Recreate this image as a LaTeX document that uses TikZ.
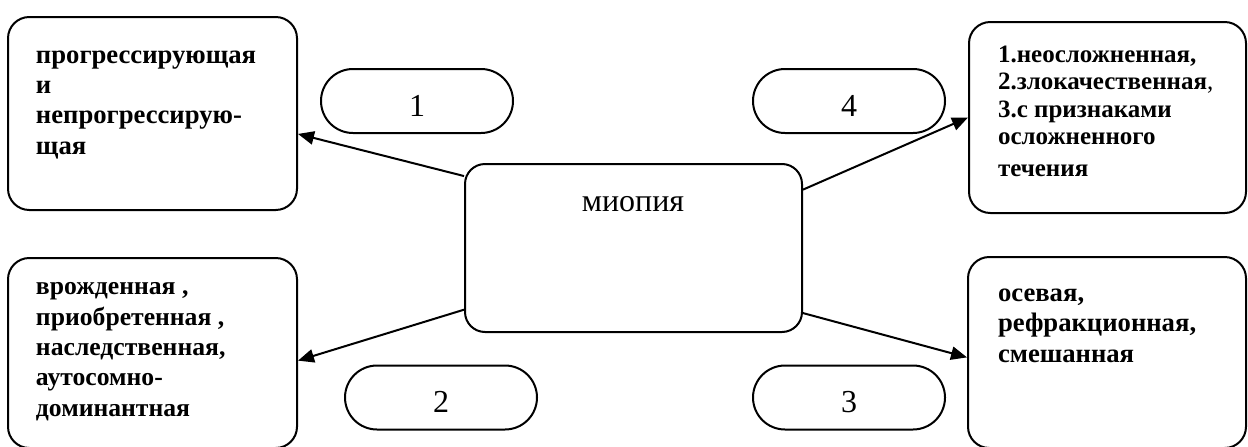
\documentclass[tikz,border=0pt]{standalone}
\usepackage{fontspec}
\setmainfont{Liberation Serif}
\usetikzlibrary{arrows.meta}

\begin{document}
\begin{tikzpicture}[x=0.75pt,y=-0.75pt,>={Triangle[length=12pt,width=10pt]},line width=1.5pt,
    big box/.style={draw,rounded corners=16pt},
    pill/.style={draw,rounded corners=24pt,minimum width=144pt,minimum height=48pt,text height=23pt,text depth=0pt,font=\fontsize{24}{28}\selectfont},
    txt/.style={anchor=base west,align=left,inner sep=0pt,font=\fontsize{20}{22.75}\selectfont\bfseries}]
    \useasboundingbox (0,0) rectangle (1248,446);

    % boxes
    \node[big box,minimum width=216.75pt,minimum height=144.75pt] (prog) at (152.5,113.5) {};
    \node[big box,minimum width=207.75pt,minimum height=143.25pt] (flow) at (1107.5,117.5) {};
    \node[big box,minimum width=216.75pt,minimum height=142.5pt] (orig) at (152.5,353) {};
    \node[big box,minimum width=208.5pt,minimum height=143.25pt] (kind) at (1107,352.5) {};
    \node[big box,rounded corners=15pt,minimum width=252.75pt,minimum height=126pt] (myo) at (633.5,248) {};

    % texts (anchored at the last line)
    \node[txt] (progtxt) at (35,154) {прогрессирующая\\и\\непрогрессирую-\\щая};
    \node[txt,font=\fontsize{18.75}{20.6}\selectfont\bfseries] (flowtxt) at (997,176) {1.неосложненная,\\2.злокачественная\textmd{,}\\3.с признаками\\осложненного\\[3pt]течения};
    \node[txt,font=\fontsize{19.25}{22.75}\selectfont\bfseries] (origtxt) at (35,416) {врожденная ,\\приобретенная ,\\наследственная,\\аутосомно-\\доминантная};
    \node[txt] (kindtxt) at (997,362) {осевая,\\рефракционная,\\смешанная};
    \node[anchor=base,inner sep=0pt,font=\fontsize{24}{28}\selectfont] (myotxt) at (633,211) {миопия};

    % numbers
    \node[pill] (n1) at (417,101) {1};
    \node[pill] (n4) at (849,101) {4};
    \node[pill] (n2) at (441,397.5) {2};
    \node[pill] (n3) at (849,397.5) {3};

    \path[->]
        (myo.157.7) edge (prog.352.7)
        (myo.19) edge (flow.180.6)
        (myo.200.5) edge (orig.357)
        (myo.339.2) edge (kind.182.9)
        ;
\end{tikzpicture}
\end{document}
